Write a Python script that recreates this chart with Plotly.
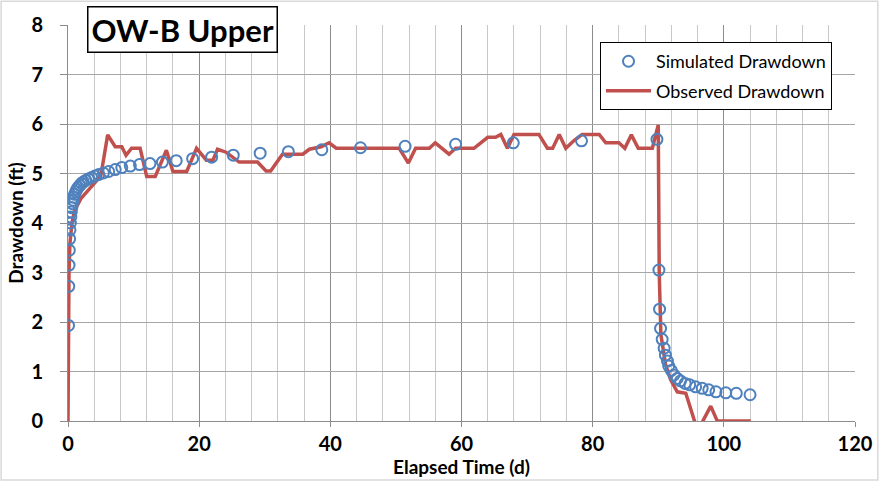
import plotly.graph_objects as go

# Simulated drawdown (open circles)
sim_t = [0.08, 0.12, 0.16, 0.2, 0.25, 0.3, 0.36, 0.43, 0.5, 0.58, 0.67, 0.77, 0.88, 1.0,
         1.17, 1.35, 1.55, 1.8, 2.05, 2.35, 2.7, 3.1, 3.6, 4.1, 4.7, 5.4, 6.2, 7.2, 8.2,
         9.5, 10.9, 12.5, 14.4, 16.5, 19.0, 21.9, 25.2, 29.3, 33.6, 38.7, 44.6, 51.4,
         59.1, 67.9, 78.3, 89.8,
         90.1, 90.2, 90.35, 90.6, 90.9, 91.1, 91.4, 91.6, 92.0, 92.4, 92.9, 93.4, 94.1,
         94.8, 95.7, 96.7, 97.7, 98.8, 100.3, 101.9, 104.0]
sim_d = [1.93, 2.72, 3.15, 3.45, 3.68, 3.86, 4.0, 4.12, 4.22, 4.31, 4.39, 4.46, 4.52, 4.58,
         4.63, 4.68, 4.72, 4.76, 4.8, 4.83, 4.86, 4.89, 4.92, 4.95, 4.98, 5.01, 5.04, 5.08, 5.12,
         5.15, 5.18, 5.2, 5.23, 5.26, 5.3, 5.33, 5.37, 5.41, 5.44, 5.48, 5.52, 5.55,
         5.59, 5.62, 5.66, 5.69,
         3.05, 2.26, 1.87, 1.65, 1.47, 1.33, 1.21, 1.11, 1.02, 0.93, 0.86, 0.81, 0.76,
         0.73, 0.69, 0.66, 0.63, 0.59, 0.57, 0.56, 0.53]

# Observed drawdown (line)
obs_t = [0, 0.05, 0.15, 0.3, 0.6, 1, 2, 3, 4, 5, 6.05, 7.2, 8.2, 8.85, 9.7, 11.0, 12.0, 13.3,
         15.0, 16.0, 18.1, 19.6, 21.1, 22.1, 22.8, 24.1, 26.1, 28.9, 30.2, 30.9, 32.7, 35.8,
         36.8, 38.6, 39.8, 40.9, 50.5, 51.9, 53.0, 55.1, 56.0, 58.1, 59.1, 61.9, 64.0, 65.2,
         66.0, 67.0, 68.0, 71.8, 73.1, 73.9, 74.9, 75.9, 77.2, 78.4, 81.0, 82.0, 84.0, 84.9,
         85.9, 86.95, 89.1, 90.0, 90.15, 90.4, 91.1, 91.9, 92.9, 94.2, 96.0, 98.0, 99.0, 104.1]
obs_d = [0, 1.9, 3.0, 3.6, 4.0, 4.25, 4.5, 4.65, 4.8, 4.95, 5.78, 5.54, 5.54, 5.37, 5.51,
         5.51, 4.94, 4.94, 5.47, 5.04, 5.04, 5.51, 5.27, 5.27, 5.49, 5.43, 5.23, 5.23, 5.05,
         5.05, 5.39, 5.39, 5.49, 5.54, 5.62, 5.51, 5.51, 5.21, 5.51, 5.51, 5.62, 5.39, 5.51,
         5.51, 5.73, 5.73, 5.79, 5.51, 5.79, 5.79, 5.51, 5.51, 5.79, 5.51, 5.67, 5.79, 5.79,
         5.62, 5.62, 5.51, 5.78, 5.51, 5.51, 5.98, 3.0, 1.75, 1.15, 0.83, 0.59, 0.56, -0.2,
         0.3, 0, 0]

FONT = "Lato"

fig = go.Figure()
fig.add_trace(go.Scatter(
    x=obs_t, y=obs_d, mode="lines", name="Observed Drawdown", legendgroup="b",
    legendrank=2, line=dict(color="#C0504D", width=3.5),
))
fig.add_trace(go.Scatter(
    x=sim_t, y=sim_d, mode="markers", name="Simulated Drawdown", legendgroup="a",
    legendrank=1,
    marker=dict(symbol="circle-open", size=11, color="#4F81BD", line=dict(width=2, color="#4F81BD")),
))

fig.update_layout(
    width=880, height=482,
    margin=dict(l=68, r=25, t=25, b=61),
    paper_bgcolor="white", plot_bgcolor="white",
    font=dict(family=FONT, color="black"),
    legend=dict(
        x=0.676, y=0.957, xanchor="left", yanchor="top",
        bgcolor="white", bordercolor="black", borderwidth=1,
        font=dict(family=FONT, size=18, color="black"),
        traceorder="grouped", tracegroupgap=3, itemwidth=45,
    ),
    xaxis=dict(
        range=[0, 120], dtick=20, tick0=0, automargin=False,
        showgrid=True, gridcolor="#8c8c8c", gridwidth=1,
        minor=dict(dtick=4, showgrid=True, gridcolor="#c8c8c8", gridwidth=1),
        showline=True, linecolor="#8c8c8c", linewidth=1,
        ticks="outside", ticklen=5, tickcolor="#8c8c8c",
        tickfont=dict(family=FONT, size=20, color="black", weight="bold"),
        zeroline=False,
        title=dict(text="<b>Elapsed Time (d)</b>", font=dict(family=FONT, size=19), standoff=2),
    ),
    yaxis=dict(
        range=[0, 8], dtick=1, tick0=0, automargin=False,
        showgrid=True, gridcolor="#a6a6a6", gridwidth=1,
        showline=True, linecolor="#8c8c8c", linewidth=1,
        ticks="outside", ticklen=7, tickcolor="#8c8c8c",
        ticklabelstandoff=13,
        tickfont=dict(family=FONT, size=20, color="black", weight="bold"),
        zeroline=False,
        title=dict(text="<b>Drawdown (ft)</b>", font=dict(family=FONT, size=19), standoff=2),
    ),
)

fig.add_annotation(
    xref="paper", yref="paper", x=0.146, y=0.988, xanchor="center", yanchor="middle",
    text="<b>OW-B Upper</b>", showarrow=False,
    font=dict(family=FONT, size=31, color="black"),
    bgcolor="white", bordercolor="black", borderwidth=1.5, borderpad=3,
)

# outer chart frame
fig.add_shape(type="rect", xref="paper", yref="paper",
              x0=-0.085, x1=1.029, y0=-0.149, y1=1.06,
              line=dict(color="#d9d9d9", width=1.5), layer="below")

fig.write_html("out.html")
